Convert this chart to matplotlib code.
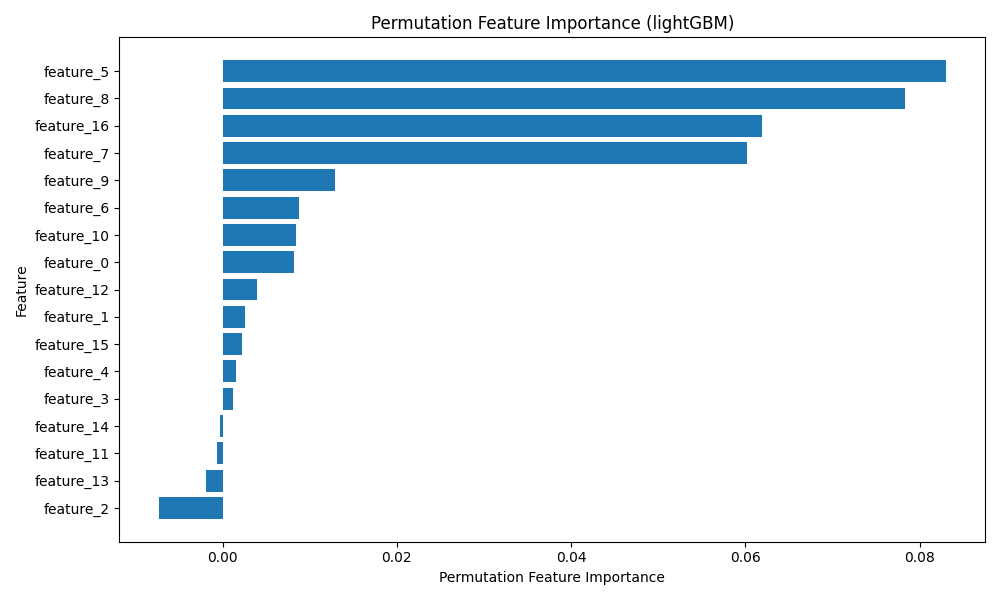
import matplotlib.pyplot as plt

# permutation importances, sorted largest first
features = ["feature_5", "feature_8", "feature_16", "feature_7", "feature_9",
            "feature_6", "feature_10", "feature_0", "feature_12", "feature_1",
            "feature_15", "feature_4", "feature_3", "feature_14", "feature_11",
            "feature_13", "feature_2"]
importances = [0.0830, 0.0783, 0.0619, 0.0602, 0.01285,
               0.00872, 0.00838, 0.00815, 0.0039, 0.00252,
               0.00218, 0.00149, 0.00115, -0.00034, -0.00069,
               -0.00195, -0.00734]

fig, ax = plt.subplots(figsize=(10, 6))

# reverse so the biggest one sits on top
ax.barh(features[::-1], importances[::-1], color="#1f77b4")

ax.set_xlabel("Permutation Feature Importance")
ax.set_ylabel("Feature")
ax.set_title("Permutation Feature Importance (lightGBM)")

plt.tight_layout()
fig.savefig("out.png", dpi=100)
